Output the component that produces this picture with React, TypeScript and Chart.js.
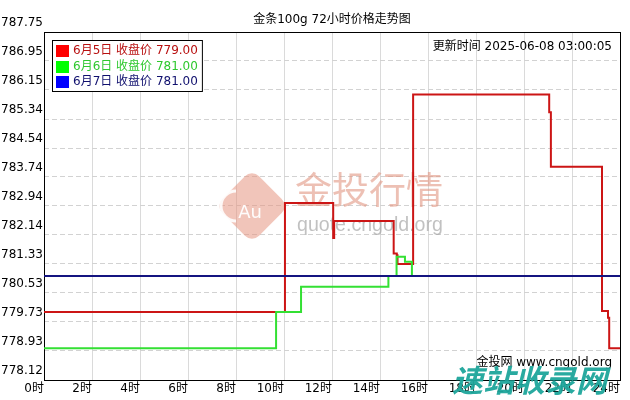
import React, { useEffect, useRef } from 'react';
import { Chart, registerables } from 'chart.js';

Chart.register(...registerables);

// ---- text ----
const titleText = '金条100g 72小时价格走势图';
const updateText = '更新时间 2025-06-08 03:00:05';
const sourceText = '金投网 www.cngold.org';
const watermarkCn = '金投行情';
const watermarkUrl = 'quote.cngold.org';
const overlayMark = '速站收录网';

// ---- axes ----
const yTickValues = [778.12, 778.93, 779.73, 780.53, 781.33, 782.14, 782.94, 783.74, 784.54, 785.34, 786.15, 786.95, 787.75];
const yTickLabels = ['778.12', '778.93', '779.73', '780.53', '781.33', '782.14', '782.94', '783.74', '784.54', '785.34', '786.15', '786.95', '787.75'];
const xTickHours = [0, 2, 4, 6, 8, 10, 12, 14, 16, 18, 20, 22, 24];
const hourSuffix = '时';

// ---- legend ----
const seriesDates = ['6月5日', '6月6日', '6月7日'];
const closeLabel = '收盘价';
const closeValues = [779.0, 781.0, 781.0];

// ---- series (hour of day, price) ----
const redHours = [0, 10.04, 12.05, 12.09, 14.57, 14.70, 14.73, 15.38, 21.05, 21.12, 23.25, 23.50, 23.55, 24];
const redValues = [780.0, 783.02, 782.05, 782.52, 781.62, 781.57, 781.33, 786.02, 785.53, 784.02, 780.03, 779.84, 779.0, 779.0];

const greenHours = [0, 9.67, 10.71, 14.35, 14.69, 15.04, 15.33];
const greenValues = [779.0, 780.0, 780.7, 781.0, 781.53, 781.39, 781.0];

const blueHours = [0, 24];
const blueValues = [781.0, 781.0];

const lineColors = ['#cc1515', '#33e033', '#141480'];
const squareColors = ['#ff0000', '#00ff00', '#0000ff'];
const legendTextColors = ['#b81010', '#2ec82e', '#10106e'];

const FONT = '"DejaVu Sans", "Noto Sans CJK SC", sans-serif';
const CJK = '"Noto Sans CJK SC", "DejaVu Sans", sans-serif';

const toPoints = (xs: number[], ys: number[]) => xs.map((x, i) => ({ x, y: ys[i] }));

const overlayPlugin = {
  id: 'overlay',
  beforeDatasetsDraw(chart: any) {
    const { ctx, chartArea: a } = chart;
    ctx.save();
    // logo
    ctx.save();
    ctx.translate(252, 206);
    ctx.rotate(Math.PI / 4);
    ctx.fillStyle = 'rgba(230,150,130,0.55)';
    ctx.beginPath();
    (ctx as any).roundRect(-26, -26, 52, 52, 10);
    ctx.fill();
    ctx.restore();
    ctx.fillStyle = 'rgba(255,255,255,0.95)';
    ctx.beginPath();
    ctx.arc(236, 206, 15, Math.PI * 0.5, Math.PI * 1.5);
    ctx.lineWidth = 3;
    ctx.strokeStyle = 'rgba(255,255,255,0.9)';
    ctx.stroke();
    ctx.font = `18px ${FONT}`;
    ctx.textAlign = 'center';
    ctx.textBaseline = 'middle';
    ctx.fillText('Au', 250, 213);
    // watermark text
    ctx.fillStyle = 'rgba(225,150,130,0.6)';
    ctx.font = `37px ${CJK}`;
    ctx.textAlign = 'left';
    ctx.fillText(watermarkCn, 295, 190);
    ctx.fillStyle = 'rgba(160,160,160,0.65)';
    ctx.font = `20px "Liberation Sans", sans-serif`;
    const w = ctx.measureText(watermarkUrl).width;
    const fs = 20 * 146 / w;
    ctx.font = `${fs}px "Liberation Sans", sans-serif`;
    ctx.fillText(watermarkUrl, 297, 226);
    // frame
    ctx.strokeStyle = '#000';
    ctx.lineWidth = 1;
    ctx.strokeRect(a.left + 0.5, a.top + 0.5, a.right - a.left, a.bottom - a.top);
    ctx.restore();
  },
  afterDatasetsDraw(chart: any) {
    const { ctx, chartArea: a } = chart;
    ctx.save();
    // title
    ctx.font = `12px ${FONT}`;
    ctx.fillStyle = '#000';
    ctx.textAlign = 'center';
    ctx.textBaseline = 'middle';
    ctx.fillText(titleText, (a.left + a.right) / 2, 20);
    // update time / source
    ctx.textAlign = 'right';
    ctx.fillText(updateText, a.right - 8, 47);
    ctx.fillText(sourceText, a.right - 8, 363);
    // legend
    const labels = seriesDates.map((d, i) => `${d} ${closeLabel} ${closeValues[i].toFixed(2)}`);
    const tw = Math.max(...labels.map((t) => ctx.measureText(t).width));
    const bx = 52.5, by = 40.5, bw = 4 + 13 + 4 + tw + 4, bh = 51;
    ctx.fillStyle = '#fff';
    ctx.fillRect(bx, by, bw, bh);
    ctx.strokeStyle = '#000';
    ctx.lineWidth = 1;
    ctx.strokeRect(bx, by, bw, bh);
    ctx.textAlign = 'left';
    labels.forEach((t, i) => {
      const cy = 51 + i * 15.5;
      ctx.fillStyle = squareColors[i];
      ctx.fillRect(56, Math.round(cy - 6), 13, 12);
      ctx.fillStyle = legendTextColors[i];
      ctx.fillText(t, 73, cy);
    });
    ctx.restore();
  },
  afterDraw(chart: any) {
    const { ctx } = chart;
    ctx.save();
    ctx.fillStyle = 'rgba(30,165,155,0.95)';
    ctx.font = `italic bold 31px ${CJK}`;
    ctx.textAlign = 'left';
    ctx.textBaseline = 'middle';
    ctx.fillText(overlayMark, 452, 380);
    ctx.restore();
  },
};

export default function App() {
  const ref = useRef<HTMLCanvasElement | null>(null);
  useEffect(() => {
    document.body.style.margin = '0';
    if (!ref.current) return;
    const mk = (label: string, xs: number[], ys: number[], color: string, order: number) => ({
      label,
      data: toPoints(xs, ys),
      borderColor: color,
      backgroundColor: color,
      borderWidth: 2,
      pointRadius: 0,
      stepped: true,
      fill: false,
      order,
    });
    const chart = new Chart(ref.current, {
      type: 'line',
      data: {
        datasets: [
          mk(seriesDates[0], redHours, redValues, lineColors[0], 2) as any,
          mk(seriesDates[1], greenHours, greenValues, lineColors[1], 1) as any,
          mk(seriesDates[2], blueHours, blueValues, lineColors[2], 0) as any,
        ],
      },
      options: {
        animation: false,
        responsive: false,
        events: [],
        layout: { padding: { top: 32, right: 10, left: 0, bottom: 0 } },
        plugins: { legend: { display: false }, title: { display: false }, tooltip: { enabled: false } },
        scales: {
          x: {
            type: 'linear',
            min: 0,
            max: 24,
            afterBuildTicks: (s: any) => { s.ticks = xTickHours.map((v) => ({ value: v })); },
            afterFit: (s: any) => { s.height = 20; },
            ticks: {
              align: 'end',
              padding: 2,
              color: '#000',
              font: { family: FONT, size: 12 },
              maxRotation: 0,
              autoSkip: false,
              callback: (v: any) => `${v}${hourSuffix}`,
            },
            grid: { color: '#dadada', drawTicks: false, lineWidth: 1 },
            border: { display: false },
          },
          y: {
            type: 'linear',
            min: yTickValues[0],
            max: yTickValues[yTickValues.length - 1],
            afterBuildTicks: (s: any) => { s.ticks = yTickValues.map((v) => ({ value: v })); },
            afterFit: (s: any) => { s.width = 44; },
            ticks: {
              padding: 1,
              labelOffset: -9,
              color: '#000',
              font: { family: FONT, size: 12 },
              autoSkip: false,
              callback: (_v: any, i: number) => yTickLabels[i],
            },
            grid: { color: '#d2d2d2', drawTicks: false, lineWidth: 1 },
            border: { display: false, dash: [5, 3] },
          },
        },
      } as any,
      plugins: [overlayPlugin],
    });
    return () => chart.destroy();
  }, []);
  return (
    <div style={{ width: 630, height: 400 }}>
      <canvas ref={ref} width={630} height={400} style={{ display: 'block', width: 630, height: 400 }} />
    </div>
  );
}
